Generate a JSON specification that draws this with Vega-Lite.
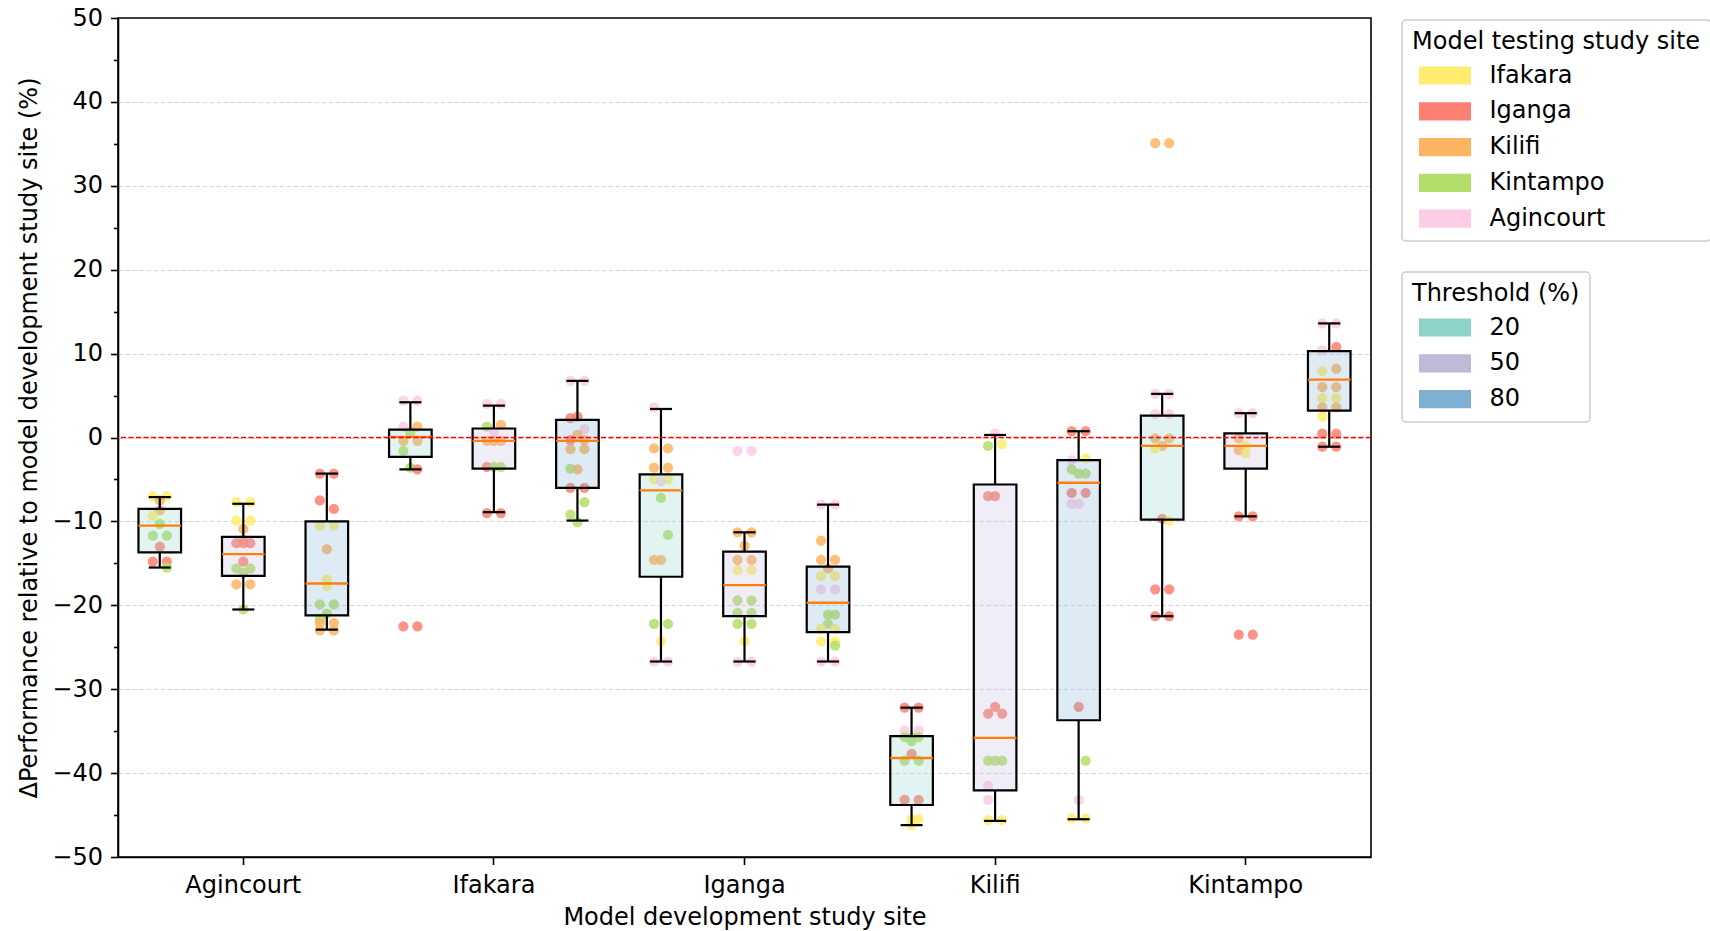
{
  "$schema": "https://vega.github.io/schema/vega-lite/v6.json",
  "autosize": {"type": "none"},
  "padding": {"left": 118, "top": 18, "right": 339, "bottom": 74},
  "width": 1253,
  "height": 839,
  "background": "white",
  "datasets": {
    "pts": [
      {"g":"Agincourt|20","site":"Ifakara","v":-7.0,"r":1},{"g":"Agincourt|20","site":"Ifakara","v":-7.0,"r":3},{"g":"Agincourt|20","site":"Kilifi","v":-7.5,"r":2},{"g":"Agincourt|20","site":"Kilifi","v":-8.7,"r":2},{"g":"Agincourt|20","site":"Ifakara","v":-9.3,"r":1},{"g":"Agincourt|20","site":"Kintampo","v":-10.3,"r":2},{"g":"Agincourt|20","site":"Kintampo","v":-11.7,"r":1},{"g":"Agincourt|20","site":"Kintampo","v":-11.7,"r":3},{"g":"Agincourt|20","site":"Iganga","v":-13.0,"r":2},{"g":"Agincourt|20","site":"Iganga","v":-14.8,"r":1},{"g":"Agincourt|20","site":"Iganga","v":-14.8,"r":3},{"g":"Agincourt|20","site":"Kintampo","v":-15.5,"r":3},
      {"g":"Agincourt|50","site":"Ifakara","v":-7.7,"r":1},{"g":"Agincourt|50","site":"Ifakara","v":-7.7,"r":3},{"g":"Agincourt|50","site":"Ifakara","v":-9.9,"r":1},{"g":"Agincourt|50","site":"Ifakara","v":-9.9,"r":3},{"g":"Agincourt|50","site":"Kilifi","v":-10.9,"r":2},{"g":"Agincourt|50","site":"Kilifi","v":-12.2,"r":2},{"g":"Agincourt|50","site":"Iganga","v":-12.6,"r":1},{"g":"Agincourt|50","site":"Iganga","v":-12.6,"r":2},{"g":"Agincourt|50","site":"Iganga","v":-12.6,"r":3},{"g":"Agincourt|50","site":"Iganga","v":-14.8,"r":2},{"g":"Agincourt|50","site":"Kintampo","v":-15.6,"r":1},{"g":"Agincourt|50","site":"Kintampo","v":-15.6,"r":3},{"g":"Agincourt|50","site":"Kintampo","v":-16.1,"r":2},{"g":"Agincourt|50","site":"Kilifi","v":-17.5,"r":1},{"g":"Agincourt|50","site":"Kilifi","v":-17.5,"r":3},{"g":"Agincourt|50","site":"Kintampo","v":-20.5,"r":2},
      {"g":"Agincourt|80","site":"Iganga","v":-4.3,"r":1},{"g":"Agincourt|80","site":"Iganga","v":-4.3,"r":3},{"g":"Agincourt|80","site":"Iganga","v":-7.5,"r":1},{"g":"Agincourt|80","site":"Iganga","v":-8.5,"r":3},{"g":"Agincourt|80","site":"Ifakara","v":-10.5,"r":1},{"g":"Agincourt|80","site":"Ifakara","v":-10.5,"r":3},{"g":"Agincourt|80","site":"Kilifi","v":-13.3,"r":2},{"g":"Agincourt|80","site":"Ifakara","v":-16.9,"r":2},{"g":"Agincourt|80","site":"Ifakara","v":-17.7,"r":2},{"g":"Agincourt|80","site":"Kintampo","v":-19.9,"r":1},{"g":"Agincourt|80","site":"Kintampo","v":-19.9,"r":3},{"g":"Agincourt|80","site":"Kintampo","v":-21.0,"r":2},{"g":"Agincourt|80","site":"Kintampo","v":-21.6,"r":1},{"g":"Agincourt|80","site":"Kilifi","v":-22.1,"r":1},{"g":"Agincourt|80","site":"Kilifi","v":-22.1,"r":3},{"g":"Agincourt|80","site":"Kilifi","v":-23.0,"r":1},{"g":"Agincourt|80","site":"Kilifi","v":-23.0,"r":3},
      {"g":"Ifakara|20","site":"Agincourt","v":4.4,"r":1},{"g":"Ifakara|20","site":"Agincourt","v":4.4,"r":3},{"g":"Ifakara|20","site":"Agincourt","v":1.3,"r":1},{"g":"Ifakara|20","site":"Kilifi","v":1.3,"r":3},{"g":"Ifakara|20","site":"Kintampo","v":0.6,"r":2},{"g":"Ifakara|20","site":"Kilifi","v":-0.4,"r":1},{"g":"Ifakara|20","site":"Kilifi","v":-0.4,"r":3},{"g":"Ifakara|20","site":"Kintampo","v":-1.6,"r":1},{"g":"Ifakara|20","site":"Kintampo","v":-3.6,"r":2},{"g":"Ifakara|20","site":"Iganga","v":-3.8,"r":3},{"g":"Ifakara|20","site":"Iganga","v":-22.5,"r":1},{"g":"Ifakara|20","site":"Iganga","v":-22.5,"r":3},
      {"g":"Ifakara|50","site":"Agincourt","v":4.0,"r":1},{"g":"Ifakara|50","site":"Agincourt","v":4.0,"r":3},{"g":"Ifakara|50","site":"Kintampo","v":1.3,"r":1},{"g":"Ifakara|50","site":"Kilifi","v":1.5,"r":3},{"g":"Ifakara|50","site":"Agincourt","v":0.7,"r":2},{"g":"Ifakara|50","site":"Kilifi","v":-0.4,"r":1},{"g":"Ifakara|50","site":"Kilifi","v":-0.4,"r":2},{"g":"Ifakara|50","site":"Kilifi","v":-0.4,"r":3},{"g":"Ifakara|50","site":"Iganga","v":-3.5,"r":1},{"g":"Ifakara|50","site":"Kintampo","v":-3.5,"r":2},{"g":"Ifakara|50","site":"Kintampo","v":-3.5,"r":3},{"g":"Ifakara|50","site":"Iganga","v":-9.0,"r":1},{"g":"Ifakara|50","site":"Iganga","v":-9.0,"r":3},
      {"g":"Ifakara|80","site":"Agincourt","v":6.75,"r":1},{"g":"Ifakara|80","site":"Agincourt","v":6.75,"r":3},{"g":"Ifakara|80","site":"Iganga","v":2.5,"r":2},{"g":"Ifakara|80","site":"Iganga","v":2.3,"r":1},{"g":"Ifakara|80","site":"Agincourt","v":1.0,"r":3},{"g":"Ifakara|80","site":"Kilifi","v":0.3,"r":2},{"g":"Ifakara|80","site":"Kilifi","v":-0.3,"r":3},{"g":"Ifakara|80","site":"Iganga","v":-0.3,"r":1},{"g":"Ifakara|80","site":"Kilifi","v":-1.4,"r":1},{"g":"Ifakara|80","site":"Kilifi","v":-1.4,"r":3},{"g":"Ifakara|80","site":"Kintampo","v":-3.7,"r":1},{"g":"Ifakara|80","site":"Kilifi","v":-3.8,"r":2},{"g":"Ifakara|80","site":"Iganga","v":-6.0,"r":1},{"g":"Ifakara|80","site":"Iganga","v":-6.0,"r":3},{"g":"Ifakara|80","site":"Kintampo","v":-7.7,"r":3},{"g":"Ifakara|80","site":"Kintampo","v":-9.2,"r":1},{"g":"Ifakara|80","site":"Kintampo","v":-10.1,"r":2},
      {"g":"Iganga|20","site":"Agincourt","v":3.6,"r":1},{"g":"Iganga|20","site":"Kilifi","v":-1.3,"r":1},{"g":"Iganga|20","site":"Kilifi","v":-1.3,"r":3},{"g":"Iganga|20","site":"Kilifi","v":-3.6,"r":1},{"g":"Iganga|20","site":"Kilifi","v":-3.6,"r":3},{"g":"Iganga|20","site":"Ifakara","v":-5.0,"r":1},{"g":"Iganga|20","site":"Ifakara","v":-5.0,"r":3},{"g":"Iganga|20","site":"Agincourt","v":-5.2,"r":2},{"g":"Iganga|20","site":"Kintampo","v":-7.2,"r":2},{"g":"Iganga|20","site":"Kintampo","v":-11.6,"r":3},{"g":"Iganga|20","site":"Kilifi","v":-14.6,"r":1},{"g":"Iganga|20","site":"Kilifi","v":-14.6,"r":2},{"g":"Iganga|20","site":"Kintampo","v":-22.2,"r":1},{"g":"Iganga|20","site":"Kintampo","v":-22.2,"r":3},{"g":"Iganga|20","site":"Ifakara","v":-24.3,"r":2},{"g":"Iganga|20","site":"Agincourt","v":-26.7,"r":1},{"g":"Iganga|20","site":"Agincourt","v":-26.7,"r":3},
      {"g":"Iganga|50","site":"Agincourt","v":-1.6,"r":1},{"g":"Iganga|50","site":"Agincourt","v":-1.6,"r":3},{"g":"Iganga|50","site":"Kilifi","v":-11.3,"r":1},{"g":"Iganga|50","site":"Kilifi","v":-11.3,"r":3},{"g":"Iganga|50","site":"Kilifi","v":-12.9,"r":2},{"g":"Iganga|50","site":"Kilifi","v":-14.6,"r":1},{"g":"Iganga|50","site":"Kilifi","v":-14.6,"r":3},{"g":"Iganga|50","site":"Ifakara","v":-15.8,"r":1},{"g":"Iganga|50","site":"Ifakara","v":-15.8,"r":3},{"g":"Iganga|50","site":"Kintampo","v":-19.4,"r":1},{"g":"Iganga|50","site":"Kintampo","v":-19.4,"r":3},{"g":"Iganga|50","site":"Kintampo","v":-20.9,"r":1},{"g":"Iganga|50","site":"Kintampo","v":-20.9,"r":3},{"g":"Iganga|50","site":"Kintampo","v":-22.2,"r":1},{"g":"Iganga|50","site":"Kintampo","v":-22.2,"r":3},{"g":"Iganga|50","site":"Ifakara","v":-24.3,"r":2},{"g":"Iganga|50","site":"Agincourt","v":-26.7,"r":1},{"g":"Iganga|50","site":"Agincourt","v":-26.7,"r":3},
      {"g":"Iganga|80","site":"Agincourt","v":-8.0,"r":1},{"g":"Iganga|80","site":"Agincourt","v":-8.0,"r":3},{"g":"Iganga|80","site":"Kilifi","v":-12.3,"r":1},{"g":"Iganga|80","site":"Kilifi","v":-14.6,"r":1},{"g":"Iganga|80","site":"Kilifi","v":-14.6,"r":3},{"g":"Iganga|80","site":"Kilifi","v":-15.6,"r":2},{"g":"Iganga|80","site":"Ifakara","v":-16.5,"r":1},{"g":"Iganga|80","site":"Ifakara","v":-16.5,"r":3},{"g":"Iganga|80","site":"Agincourt","v":-18.1,"r":1},{"g":"Iganga|80","site":"Agincourt","v":-18.1,"r":3},{"g":"Iganga|80","site":"Kintampo","v":-21.1,"r":2},{"g":"Iganga|80","site":"Kintampo","v":-21.1,"r":3},{"g":"Iganga|80","site":"Kintampo","v":-22.2,"r":2},{"g":"Iganga|80","site":"Ifakara","v":-22.8,"r":1},{"g":"Iganga|80","site":"Ifakara","v":-22.8,"r":3},{"g":"Iganga|80","site":"Ifakara","v":-24.3,"r":1},{"g":"Iganga|80","site":"Ifakara","v":-24.3,"r":3},{"g":"Iganga|80","site":"Kintampo","v":-24.8,"r":3},{"g":"Iganga|80","site":"Agincourt","v":-26.7,"r":1},{"g":"Iganga|80","site":"Agincourt","v":-26.7,"r":3},
      {"g":"Kilifi|20","site":"Iganga","v":-32.2,"r":1},{"g":"Kilifi|20","site":"Iganga","v":-32.2,"r":3},{"g":"Kilifi|20","site":"Agincourt","v":-34.9,"r":1},{"g":"Kilifi|20","site":"Agincourt","v":-34.9,"r":3},{"g":"Kilifi|20","site":"Kintampo","v":-35.7,"r":1},{"g":"Kilifi|20","site":"Kintampo","v":-35.7,"r":2},{"g":"Kilifi|20","site":"Kintampo","v":-35.7,"r":3},{"g":"Kilifi|20","site":"Kintampo","v":-36.2,"r":2},{"g":"Kilifi|20","site":"Iganga","v":-37.7,"r":2},{"g":"Kilifi|20","site":"Kintampo","v":-38.5,"r":1},{"g":"Kilifi|20","site":"Kintampo","v":-38.5,"r":3},{"g":"Kilifi|20","site":"Iganga","v":-43.2,"r":1},{"g":"Kilifi|20","site":"Iganga","v":-43.2,"r":3},{"g":"Kilifi|20","site":"Ifakara","v":-45.5,"r":2},{"g":"Kilifi|20","site":"Ifakara","v":-45.5,"r":3},{"g":"Kilifi|20","site":"Ifakara","v":-46.2,"r":2},
      {"g":"Kilifi|50","site":"Agincourt","v":0.5,"r":2},{"g":"Kilifi|50","site":"Ifakara","v":-0.8,"r":3},{"g":"Kilifi|50","site":"Kintampo","v":-1.0,"r":1},{"g":"Kilifi|50","site":"Iganga","v":-7.0,"r":1},{"g":"Kilifi|50","site":"Iganga","v":-7.0,"r":2},{"g":"Kilifi|50","site":"Iganga","v":-32.1,"r":2},{"g":"Kilifi|50","site":"Iganga","v":-32.9,"r":1},{"g":"Kilifi|50","site":"Iganga","v":-32.9,"r":3},{"g":"Kilifi|50","site":"Kintampo","v":-38.5,"r":1},{"g":"Kilifi|50","site":"Kintampo","v":-38.5,"r":2},{"g":"Kilifi|50","site":"Kintampo","v":-38.5,"r":3},{"g":"Kilifi|50","site":"Agincourt","v":-41.5,"r":1},{"g":"Kilifi|50","site":"Agincourt","v":-43.2,"r":1},{"g":"Kilifi|50","site":"Ifakara","v":-45.6,"r":1},{"g":"Kilifi|50","site":"Ifakara","v":-45.6,"r":3},
      {"g":"Kilifi|80","site":"Iganga","v":0.75,"r":1},{"g":"Kilifi|80","site":"Iganga","v":0.75,"r":3},{"g":"Kilifi|80","site":"Ifakara","v":-2.5,"r":3},{"g":"Kilifi|80","site":"Agincourt","v":-2.7,"r":1},{"g":"Kilifi|80","site":"Kintampo","v":-3.8,"r":1},{"g":"Kilifi|80","site":"Kintampo","v":-4.3,"r":2},{"g":"Kilifi|80","site":"Kintampo","v":-4.3,"r":3},{"g":"Kilifi|80","site":"Iganga","v":-6.6,"r":1},{"g":"Kilifi|80","site":"Iganga","v":-6.6,"r":3},{"g":"Kilifi|80","site":"Agincourt","v":-7.9,"r":1},{"g":"Kilifi|80","site":"Agincourt","v":-7.9,"r":2},{"g":"Kilifi|80","site":"Iganga","v":-32.1,"r":2},{"g":"Kilifi|80","site":"Kintampo","v":-38.5,"r":3},{"g":"Kilifi|80","site":"Agincourt","v":-43.2,"r":2},{"g":"Kilifi|80","site":"Ifakara","v":-45.4,"r":1},{"g":"Kilifi|80","site":"Ifakara","v":-45.4,"r":3},
      {"g":"Kintampo|20","site":"Kilifi","v":35.1,"r":1},{"g":"Kintampo|20","site":"Kilifi","v":35.1,"r":3},{"g":"Kintampo|20","site":"Agincourt","v":5.2,"r":1},{"g":"Kintampo|20","site":"Agincourt","v":5.2,"r":3},{"g":"Kintampo|20","site":"Agincourt","v":2.8,"r":1},{"g":"Kintampo|20","site":"Agincourt","v":2.8,"r":3},{"g":"Kintampo|20","site":"Kilifi","v":-0.1,"r":1},{"g":"Kintampo|20","site":"Kilifi","v":-0.1,"r":3},{"g":"Kintampo|20","site":"Kilifi","v":-1.0,"r":2},{"g":"Kintampo|20","site":"Ifakara","v":-1.3,"r":1},{"g":"Kintampo|20","site":"Iganga","v":-9.7,"r":2},{"g":"Kintampo|20","site":"Ifakara","v":-9.9,"r":3},{"g":"Kintampo|20","site":"Iganga","v":-18.1,"r":1},{"g":"Kintampo|20","site":"Iganga","v":-18.1,"r":3},{"g":"Kintampo|20","site":"Iganga","v":-21.3,"r":1},{"g":"Kintampo|20","site":"Iganga","v":-21.3,"r":3},
      {"g":"Kintampo|50","site":"Agincourt","v":2.9,"r":1},{"g":"Kintampo|50","site":"Agincourt","v":2.9,"r":3},{"g":"Kintampo|50","site":"Kilifi","v":-0.1,"r":1},{"g":"Kintampo|50","site":"Ifakara","v":-1.0,"r":2},{"g":"Kintampo|50","site":"Kilifi","v":-1.5,"r":1},{"g":"Kintampo|50","site":"Ifakara","v":-1.9,"r":2},{"g":"Kintampo|50","site":"Iganga","v":-9.4,"r":1},{"g":"Kintampo|50","site":"Iganga","v":-9.4,"r":3},{"g":"Kintampo|50","site":"Iganga","v":-23.5,"r":1},{"g":"Kintampo|50","site":"Iganga","v":-23.5,"r":3},
      {"g":"Kintampo|80","site":"Agincourt","v":13.6,"r":1},{"g":"Kintampo|80","site":"Agincourt","v":13.6,"r":3},{"g":"Kintampo|80","site":"Iganga","v":10.8,"r":3},{"g":"Kintampo|80","site":"Agincourt","v":10.4,"r":1},{"g":"Kintampo|80","site":"Ifakara","v":7.9,"r":1},{"g":"Kintampo|80","site":"Kilifi","v":8.2,"r":3},{"g":"Kintampo|80","site":"Kilifi","v":6.0,"r":1},{"g":"Kintampo|80","site":"Kilifi","v":6.0,"r":3},{"g":"Kintampo|80","site":"Ifakara","v":4.7,"r":1},{"g":"Kintampo|80","site":"Ifakara","v":4.7,"r":3},{"g":"Kintampo|80","site":"Kilifi","v":3.6,"r":1},{"g":"Kintampo|80","site":"Kilifi","v":3.6,"r":3},{"g":"Kintampo|80","site":"Ifakara","v":2.5,"r":1},{"g":"Kintampo|80","site":"Iganga","v":0.45,"r":1},{"g":"Kintampo|80","site":"Iganga","v":0.45,"r":3},{"g":"Kintampo|80","site":"Iganga","v":-1.1,"r":1},{"g":"Kintampo|80","site":"Iganga","v":-1.1,"r":3}
    ],
    "box": [
      {"g":"Agincourt|20","thr":"20","q1":-13.7,"q3":-8.5,"med":-10.5,"lo":-15.5,"hi":-7.1},
      {"g":"Agincourt|50","thr":"50","q1":-16.5,"q3":-11.85,"med":-13.9,"lo":-20.5,"hi":-7.9},
      {"g":"Agincourt|80","thr":"80","q1":-21.2,"q3":-10.0,"med":-17.4,"lo":-22.9,"hi":-4.3},
      {"g":"Ifakara|20","thr":"20","q1":-2.3,"q3":0.95,"med":0.07,"lo":-3.8,"hi":4.2},
      {"g":"Ifakara|50","thr":"50","q1":-3.7,"q3":1.07,"med":-0.4,"lo":-8.9,"hi":3.8},
      {"g":"Ifakara|80","thr":"80","q1":-6.0,"q3":2.1,"med":-0.4,"lo":-9.9,"hi":6.75},
      {"g":"Iganga|20","thr":"20","q1":-16.6,"q3":-4.4,"med":-6.3,"lo":-26.7,"hi":3.4},
      {"g":"Iganga|50","thr":"50","q1":-21.3,"q3":-13.6,"med":-17.6,"lo":-26.7,"hi":-11.3},
      {"g":"Iganga|80","thr":"80","q1":-23.2,"q3":-15.4,"med":-19.7,"lo":-26.7,"hi":-8.0},
      {"g":"Kilifi|20","thr":"20","q1":-43.8,"q3":-35.6,"med":-38.2,"lo":-46.2,"hi":-32.2},
      {"g":"Kilifi|50","thr":"50","q1":-42.05,"q3":-5.6,"med":-35.8,"lo":-45.7,"hi":0.3},
      {"g":"Kilifi|80","thr":"80","q1":-33.7,"q3":-2.7,"med":-5.4,"lo":-45.5,"hi":0.75},
      {"g":"Kintampo|20","thr":"20","q1":-9.8,"q3":2.6,"med":-1.0,"lo":-21.3,"hi":5.2},
      {"g":"Kintampo|50","thr":"50","q1":-3.7,"q3":0.5,"med":-1.0,"lo":-9.4,"hi":2.9},
      {"g":"Kintampo|80","thr":"80","q1":3.2,"q3":10.3,"med":6.9,"lo":-1.1,"hi":13.6}
    ]
  },
  "config": {
    "font": "DejaVu Sans",
    "view": {"stroke": "black", "strokeWidth": 1.6},
    "axis": {
      "labelFont": "DejaVu Sans", "titleFont": "DejaVu Sans",
      "labelFontSize": 24, "titleFontSize": 24, "titleFontWeight": "normal",
      "labelColor": "black", "titleColor": "black",
      "tickColor": "black", "domainColor": "black",
      "domainWidth": 1.6, "tickWidth": 1.6, "tickSize": 7.5
    },
    "legend": {
      "titleFont": "DejaVu Sans", "labelFont": "DejaVu Sans",
      "titleFontSize": 24, "titleFontWeight": "normal", "labelFontSize": 24,
      "titleColor": "black", "labelColor": "black",
      "padding": 10, "strokeColor": "#cccccc", "strokeWidth": 1.5, "cornerRadius": 4, "fillColor": "white",
      "symbolType": "M-1.6,-0.56H1.6V0.56H-1.6Z", "symbolSize": 1056,
      "symbolStrokeWidth": 0, "symbolOffset": 16.5, "labelOffset": 28,
      "rowPadding": 6.8, "titlePadding": 5, "symbolOpacity": 1, "labelLimit": 800, "titleLimit": 800
    }
  },
  "resolve": {"axis": {"y": "independent"}},
  "layer": [
    {
      "data": {"name": "pts"},
      "mark": {"type": "circle", "size": 105, "opacity": 0.85},
      "encoding": {
        "x": {"field": "g", "type": "nominal",
          "scale": {"domain": ["Agincourt|20","Agincourt|50","Agincourt|80","Ifakara|20","Ifakara|50","Ifakara|80","Iganga|20","Iganga|50","Iganga|80","Kilifi|20","Kilifi|50","Kilifi|80","Kintampo|20","Kintampo|50","Kintampo|80"], "paddingInner": 0, "paddingOuter": 0},
          "axis": {"values": ["Agincourt|50","Ifakara|50","Iganga|50","Kilifi|50","Kintampo|50"], "labelExpr": "split(datum.value, '|')[0]", "labelAngle": 0, "labelPadding": 9, "title": "Model development study site", "titlePadding": 8, "grid": false}},
        "xOffset": {"field": "r", "type": "quantitative", "scale": {"domain": [1, 3], "range": [34.8, 48.8], "zero": false, "nice": false}},
        "y": {"field": "v", "type": "quantitative",
          "scale": {"domain": [-50, 50], "nice": false, "zero": false},
          "axis": {"orient": "left", "values": [-50,-40,-30,-20,-10,0,10,20,30,40,50], "grid": false, "labelPadding": 8,
            "title": "ΔPerformance relative to model development study site (%)", "titleX": -89, "titleBaseline": "middle"}},
        "color": {"field": "site", "type": "nominal",
          "scale": {"domain": ["Ifakara","Iganga","Kilifi","Kintampo","Agincourt"], "range": ["#ffed6f","#fb8072","#fdb462","#b3de69","#fccde5"]},
          "legend": {"title": "Model testing study site", "orient": "none", "legendX": 1284, "legendY": 2}}
      }
    },
    {
      "data": {"name": "box"},
      "mark": {"type": "rule", "color": "black", "strokeWidth": 2.2},
      "encoding": {
        "x": {"field": "g", "type": "nominal"},
        "y": {"field": "lo", "type": "quantitative",
          "axis": {"orient": "left", "values": [-45,-35,-25,-15,-5,5,15,25,35,45], "labels": false, "tickSize": 4.5, "grid": false, "domain": false, "title": null}},
        "y2": {"field": "q1"}
      }
    },
    {
      "data": {"name": "box"},
      "mark": {"type": "rule", "color": "black", "strokeWidth": 2.2},
      "encoding": {
        "x": {"field": "g", "type": "nominal"},
        "y": {"field": "q3", "type": "quantitative",
          "axis": {"orient": "left", "values": [-40,-30,-20,-10,0,10,20,30,40], "labels": false, "ticks": false, "domain": false, "title": null, "grid": true, "gridColor": "#d6d6d6", "gridDash": [4.5, 2.5], "gridWidth": 1}},
        "y2": {"field": "hi"}
      }
    },
    {
      "data": {"name": "box"},
      "mark": {"type": "tick", "orient": "horizontal", "color": "black", "size": 22, "thickness": 2.2, "opacity": 1},
      "encoding": {
        "x": {"field": "g", "type": "nominal"},
        "y": {"field": "lo", "type": "quantitative", "axis": null}
      }
    },
    {
      "data": {"name": "box"},
      "mark": {"type": "tick", "orient": "horizontal", "color": "black", "size": 22, "thickness": 2.2, "opacity": 1},
      "encoding": {
        "x": {"field": "g", "type": "nominal"},
        "y": {"field": "hi", "type": "quantitative", "axis": null}
      }
    },
    {
      "data": {"name": "box"},
      "mark": {"type": "bar", "width": 42.6, "fillOpacity": 0.25, "stroke": "black", "strokeWidth": 2.2},
      "encoding": {
        "x": {"field": "g", "type": "nominal"},
        "y": {"field": "q1", "type": "quantitative", "axis": null},
        "y2": {"field": "q3"},
        "fill": {"field": "thr", "type": "nominal",
          "scale": {"domain": ["20","50","80"], "range": ["#8dd3c7","#bebada","#80b1d3"]},
          "legend": {"title": "Threshold (%)", "orient": "none", "legendX": 1284, "legendY": 254,
            "encode": {"symbols": {"update": {"fillOpacity": {"value": 1}, "strokeWidth": {"value": 0}}}}}}
      }
    },
    {
      "data": {"name": "box"},
      "mark": {"type": "tick", "orient": "horizontal", "color": "#ff7f0e", "size": 42.6, "thickness": 2.4, "opacity": 1},
      "encoding": {
        "x": {"field": "g", "type": "nominal"},
        "y": {"field": "med", "type": "quantitative", "axis": null}
      }
    },
    {
      "data": {"values": [{}]},
      "mark": {"type": "rule", "color": "#ff0000", "strokeWidth": 1.3, "strokeDash": [5, 2.5]},
      "encoding": {
        "y": {"datum": 0, "type": "quantitative", "axis": null}
      }
    }
  ]
}
